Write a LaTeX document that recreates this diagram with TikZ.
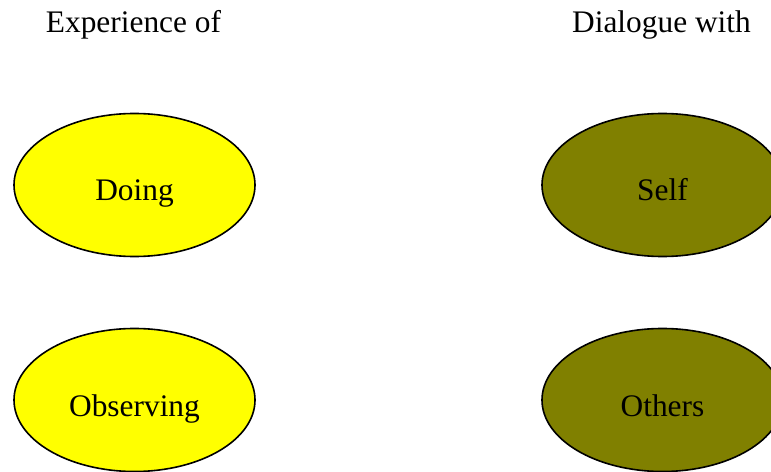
\documentclass[tikz,border=0pt]{standalone}
\usepackage{fontspec}
\setmainfont{Liberation Serif}
\usetikzlibrary{shapes.geometric,positioning}
\tikzset{
    doing color/.style={fill={rgb,255:red,255;green,255;blue,0}},
    dialogue color/.style={fill={rgb,255:red,128;green,128;blue,0}},
    bubble/.style={ellipse,draw=black,line width=1.6bp,inner sep=0pt,
        minimum width=241bp,minimum height=143bp,
        text height=37bp,text depth=5bp},
    heading/.style={anchor=base},
}
\tikzstyle{every node}=[font=\fontsize{31.5}{38}\selectfont]

\begin{document}
\begin{tikzpicture}[x=1bp,y=-1bp]
        \useasboundingbox (0,0) rectangle (771,472);
        \clip (0,0) rectangle (771,472);
        \node[heading] (experience) at (133.5,33) {Experience of};
        \node[heading] (dialogue) at (661.5,33) {Dialogue with};
        \node[bubble,doing color] (doing) at (134.5,185) {Doing};
        \node[bubble,doing color] (observing) at (134.5,400) {Observing};
        \node[bubble,dialogue color] (self) at (662.5,185) {Self};
        \node[bubble,dialogue color] (others) at (662.5,400) {Others};
    \end{tikzpicture}
\end{document}
